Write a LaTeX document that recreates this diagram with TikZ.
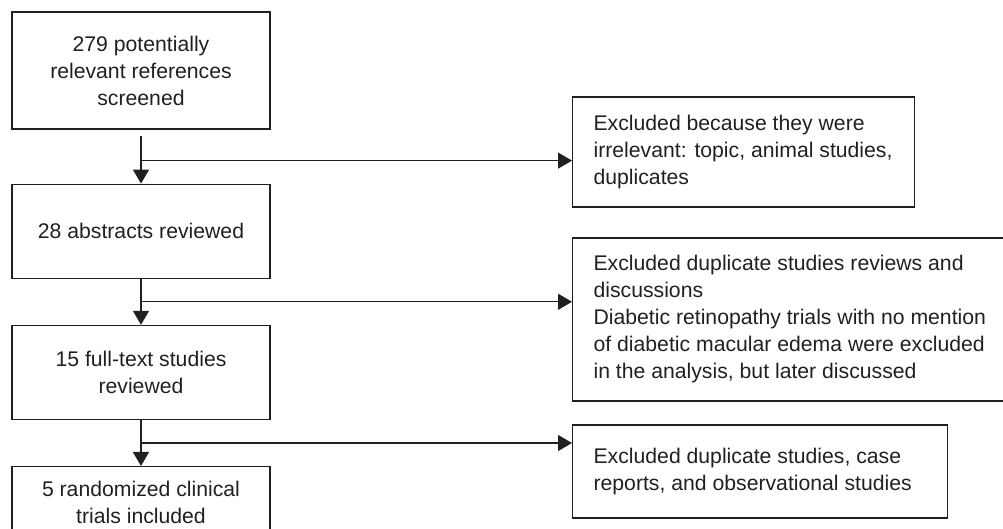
\documentclass[tikz,border=0pt]{standalone}
\usepackage{fontspec}
\setmainfont{Liberation Sans}
\usetikzlibrary{arrows.meta,positioning,calc}
\definecolor{ink}{RGB}{35,31,32}

\begin{document}
\begin{tikzpicture}[
  x=0.5pt, y=-0.5pt,
  node distance=23pt,
  every node/.style={font=\fontsize{10.6}{13.5}\selectfont, text=ink},
  stage/.style={draw=ink, line width=0.6pt, minimum width=129pt, align=center, inner sep=0pt},
  excl/.style={draw=ink, line width=0.6pt, anchor=west, align=flush left, inner xsep=10.5pt, inner ysep=0pt},
  flow/.style={draw=ink, line width=0.6pt, ->},
  >={Triangle[length=7pt,width=8pt]}
]
  \useasboundingbox (0,0) rectangle (1003,529);

  % main stages
  \node[stage, minimum height=58.5pt] (screen) at (141,70.5) {279 potentially\\relevant references\\screened};
  \node[stage, minimum height=47pt, below=27pt of screen] (abstr) {28 abstracts reviewed};
  \node[stage, minimum height=47pt, below=of abstr] (full) {15 full-text studies\\reviewed};
  \node[stage, minimum height=35.5pt, below=of full] (rct) {5 randomized clinical\\trials included};

  % exclusions
  \node[excl, text width=150pt, minimum height=55pt] (irrel) at (572,152)
    {Excluded because they were\\irrelevant: topic, animal studies,\\duplicates};
  \node[excl, text width=199pt, minimum height=81.5pt] (dup) at (572,319.5)
    {Excluded duplicate studies reviews and\\discussions\\Diabetic retinopathy trials with no mention\\of diabetic macular edema were excluded\\in the analysis, but later discussed};
  \node[excl, text width=166.5pt, minimum height=46.5pt] (obs) at (572,471.5)
    {Excluded duplicate studies, case\\reports, and observational studies};

  % branch points
  \coordinate (j1) at ($(abstr.north)+(0,-23)$);
  \coordinate (j2) at ($(full.north)+(0,-23)$);
  \coordinate (j3) at ($(rct.north)+(0,-23)$);

  \draw[flow, shorten <=3pt] (screen) -- (abstr);
  \draw[flow] (abstr) -- (full);
  \draw[flow] (full) -- (rct);
  \draw[flow] (j1) -- (j1 -| irrel.west);
  \draw[flow] (j2) -- (j2 -| dup.west);
  \draw[flow] (j3) -- (j3 -| obs.west);
\end{tikzpicture}
\end{document}
